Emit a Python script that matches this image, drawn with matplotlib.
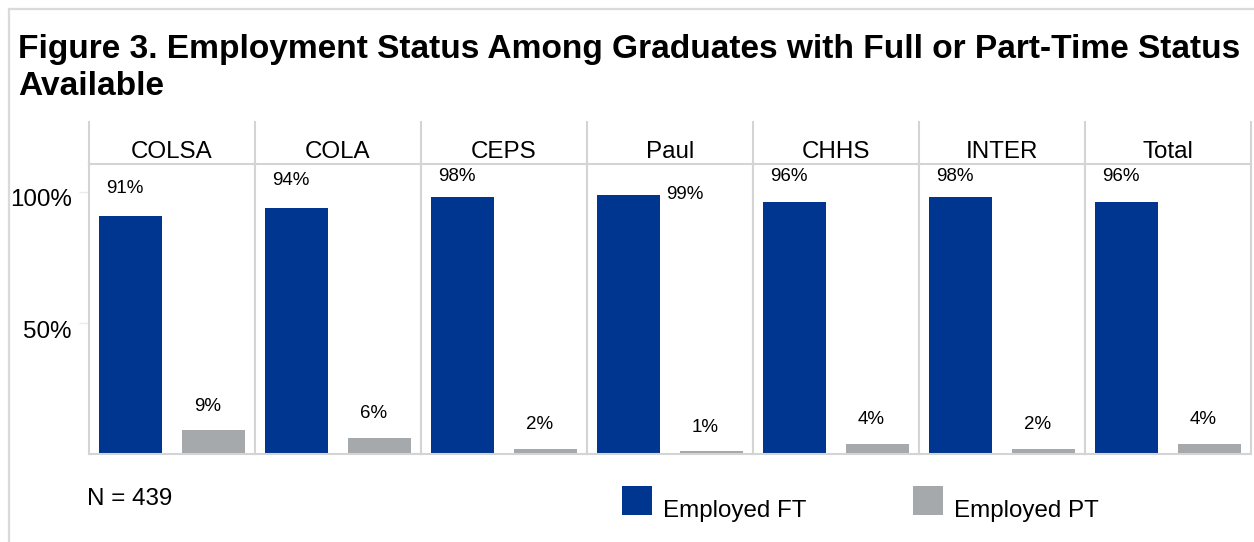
import matplotlib
matplotlib.use("Agg")
import matplotlib.pyplot as plt
from matplotlib.patches import Rectangle
from matplotlib.lines import Line2D
from matplotlib.transforms import ScaledTranslation

plt.rcParams['font.family'] = ['Liberation Sans', 'DejaVu Sans']

# ---- data ----
colleges = ["COLSA", "COLA", "CEPS", "Paul", "CHHS", "INTER", "Total"]
employed_ft = [91, 94, 98, 99, 96, 98, 96]
employed_pt = [9, 6, 2, 1, 4, 2, 4]
series_names = ["Employed FT", "Employed PT"]
y_ticks = [50, 100]
y_tick_labels = ["50%", "100%"]
title = "Figure 3. Employment Status Among Graduates with Full or Part-Time Status\nAvailable"
note = "N = 439"

# ---- style ----
W, H = 1254, 542
DPI = 100
C_FT = "#00368F"
C_PT = "#A6A9AC"
GRID = "#D4D4D4"
FS = 17.4
FS_LAB = 13.5

def fx(x):
    return x / W

def fy(y):
    return 1 - y / H

fig = plt.figure(figsize=(W / DPI, H / DPI), dpi=DPI)

# outer frame
fig.add_artist(Line2D([fx(9), fx(W + 5)], [fy(9), fy(9)], color="#DADADA", lw=1.6))
fig.add_artist(Line2D([fx(9), fx(9)], [fy(9), fy(H + 5)], color="#DADADA", lw=1.6))

fig.text(fx(18), fy(34), title, fontsize=24.1, fontweight="bold", va="top", ha="left",
         linespacing=1.25)

panel_left, panel_w = 89, 166
plot_top, plot_bot, head_top = 164, 454, 122
px_per_pct = 262 / 100.0
ymax = (plot_bot - plot_top) / px_per_pct

lw = 1.5
shift = ScaledTranslation(-6 / DPI, 0, fig.dpi_scale_trans)
for i, name in enumerate(colleges):
    left = panel_left + panel_w * i
    ax = fig.add_axes([fx(left), fy(plot_bot), panel_w / W, (plot_bot - plot_top) / H])
    ax.set_xlim(-0.5, 1.5)
    ax.set_ylim(0, ymax)
    ft, pt = employed_ft[i], employed_pt[i]
    ax.bar([0], [ft], width=0.76, color=C_FT, zorder=2)
    ax.bar([1], [pt], width=0.76, color=C_PT, zorder=2)
    for s in ax.spines.values():
        s.set_color(GRID)
        s.set_linewidth(lw)
    ax.set_xticks([])
    if i == 0:
        ax.set_yticks(y_ticks)
        ax.set_yticklabels(y_tick_labels, fontsize=FS)
        ax.tick_params(axis="y", length=7.5, width=1.0, color="#EBEBEB", pad=5)
        off = ScaledTranslation(0, -6 / DPI, fig.dpi_scale_trans)
        for lab in ax.get_yticklabels():
            lab.set_transform(lab.get_transform() + off)
    else:
        ax.set_yticks([])
    # header
    fig.text(fx(left + panel_w / 2), fy(158.5), name, fontsize=FS, ha="center", va="baseline")

    # FT label
    y_lab = min(ft + 10.5, 106.0)
    if y_lab - ft < 7.5:
        ax.annotate(f"{ft}%", xy=(0.38, ft), xytext=(4.5, 0), textcoords="offset points",
                    ha="left", va="center", fontsize=FS_LAB)
    else:
        t = ax.text(0, y_lab, f"{ft}%", ha="center", va="center", fontsize=FS_LAB)
        t.set_transform(t.get_transform() + shift)
    t = ax.text(1, pt + 9.3, f"{pt}%", ha="center", va="center", fontsize=FS_LAB)
    t.set_transform(t.get_transform() + shift)

# header verticals
for i in range(len(colleges) + 1):
    x = panel_left + panel_w * i
    fig.add_artist(Line2D([fx(x), fx(x)], [fy(head_top), fy(plot_top)], color=GRID, lw=lw))

# note
fig.text(fx(87), fy(505), note, fontsize=FS, ha="left", va="baseline")

# legend (manual)
leg_x = [622, 913]
for name, col, x in zip(series_names, [C_FT, C_PT], leg_x):
    fig.add_artist(Rectangle((fx(x), fy(515)), 30 / W, 29 / H, transform=fig.transFigure,
                             facecolor=col, edgecolor="none"))
    fig.text(fx(x + 41), fy(517), name, fontsize=FS, ha="left", va="baseline")

fig.savefig("out.png", dpi=DPI)
